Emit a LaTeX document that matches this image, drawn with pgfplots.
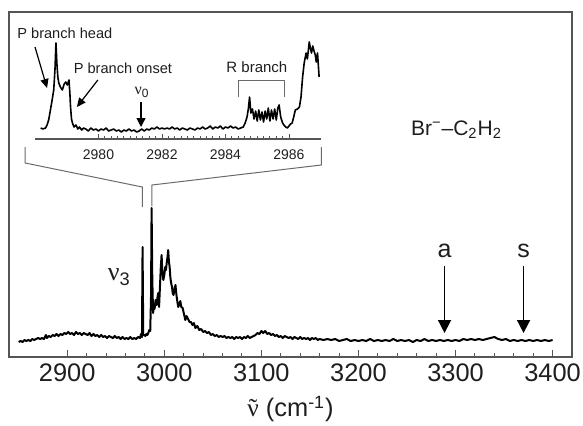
\documentclass[border=0pt]{standalone}
\usepackage{fontspec}
\setmainfont{Liberation Sans}
\newfontfamily\serif{Liberation Serif}
\usepackage{pgfplots}
\pgfplotsset{compat=1.18}
\usetikzlibrary{arrows.meta}
\definecolor{frame}{HTML}{555555}
\definecolor{brk}{HTML}{6A6A6A}
\definecolor{txt}{HTML}{1E1E1E}
\begin{document}
\begin{tikzpicture}
\useasboundingbox (-4.5pt,-34pt) rectangle (287pt,178.5pt);
\begin{axis}[name=main, at={(0pt,0pt)}, anchor=south west,
  scale only axis, width=281.5pt, height=172.5pt,
  xmin=2840, xmax=3420, ymin=0, ymax=345,
  ytick=\empty, xtick={2900,3000,...,3400}, minor x tick num=4,
  xtick pos=bottom, tick align=inside,
  major tick length=3.7pt, minor tick length=2pt,
  axis line style={frame, line width=0.6pt},
  every tick/.style={frame, line width=0.5pt},
  /pgf/number format/assume math mode=true,
  /pgf/number format/1000 sep={},
  ticklabel style={font=\fontsize{12.7}{14}\selectfont, text=txt},
  xlabel={{\serif\accent"02DC ν}\ (cm\textsuperscript{-1})},
  xlabel style={font=\fontsize{12.7}{14}\selectfont, text=txt, at={(axis description cs:0.5,0)}, anchor=center, yshift=-26pt},
  clip=false]
\addplot[black, line width=1pt, line join=round] coordinates {
(2850,15)(2852,16)(2854,15)(2856,17)(2858,16)(2860,17)(2862,16)(2864,18)(2866,17)(2868,18)
(2870,19)(2872,18)(2874,19)(2876,18)(2878,22)(2879,19)(2881,21)(2883,20)(2885,22)(2887,21)
(2889,23)(2891,21)(2893,23)(2895,22)(2897,24)(2899,23)(2901,25)(2903,23)(2905,24)(2907,22)
(2909,25)(2911,23)(2913,24)(2915,22)(2917,24)(2919,23)(2921,22)(2923,24)(2925,21)(2927,23)
(2929,21)(2931,22)(2933,20)(2935,22)(2937,20)(2939,21)(2941,19)(2943,21)(2945,20)(2947,19)
(2949,21)(2951,19)(2953,20)(2955,18)(2957,20)(2959,18)(2961,19)(2963,18)(2965,20)(2967,18)
(2969,19)(2971,18)(2973,20)(2975,19)(2976,23)(2977,20)(2977.6,110)(2978.3,22)(2979.5,22)
(2980.5,21)(2981.5,23)(2982.5,22)(2983.5,24)(2984.5,27)(2985.5,26)(2986.3,60)(2986.9,149)
(2987.6,80)(2988.4,44)(2989.2,50)(2990,48)(2991,57)(2992,52)(2993,60)(2993.8,64)(2994.6,50)
(2995.5,70)(2996.4,90)(2997.2,102)(2998,85)(2999,77)(3000,82)(3001,90)(3001.7,87)(3002.6,95)
(3003.3,100)(3004,107)(3004.8,95)(3005.5,90)(3006.2,80)(3007,74)(3008,70)(3008.6,64)(3009.5,62)
(3010.5,68)(3011.5,72)(3012.5,62)(3013.5,55)(3014.4,50)(3015.5,53)(3016.5,56)(3017.5,50)
(3018.9,49)(3020,44)(3021,40)(3021.6,37)(3023,41)(3024.5,38)(3026,35)(3027.5,35)(3029,32)
(3030.5,34)(3032,29)(3034,31)(3036,27)(3038,28)(3040,25)(3042,26)(3044,24)(3046,25)(3048,22)
(3050,23)(3052,21)(3054,22)(3056,20)(3058,21)(3060,20)(3062,21)(3064,19)(3066,20)(3068,19)
(3070,20)(3072,18)(3074,20)(3076,19)(3078,20)(3080,18)(3082,20)(3084,19)(3086,21)(3088,19)
(3090,20)(3092,21)(3094,22)(3096,24)(3098,23)(3100,26)(3102,24)(3104,26)(3106,23)(3108,24)
(3110,22)(3112,23)(3114,21)(3116,22)(3118,20)(3120,21)(3122,19)(3124,21)(3126,20)(3128,19)
(3130,20)(3132,18)(3134,20)(3136,19)(3138,18)(3140,20)(3142,18)(3144,19)(3146,18)(3148,19)
(3150,17)(3152,19)(3154,18)(3156,19)(3158,17)(3160,18)(3164,17)(3168,18)(3172,17)(3176,18)
(3180,16)(3184,17)(3188,18)(3192,16)(3196,17)(3200,16)(3204,17)(3208,16)(3212,18)(3216,16)
(3220,17)(3224,16)(3228,17)(3232,16)(3236,18)(3240,16)(3244,17)(3248,16)(3252,17)(3256,15)
(3260,17)(3264,16)(3268,18)(3272,16)(3276,17)(3280,16)(3284,17)(3288,16)(3292,17)(3296,16)
(3300,17)(3304,16)(3308,18)(3312,17)(3316,18)(3320,17)(3324,18)(3328,17)(3332,18)(3336,19)
(3340,20)(3344,18)(3348,17)(3352,18)(3356,16)(3360,17)(3364,16)(3368,17)(3372,16)(3376,17)
(3380,16)(3384,17)(3388,16)(3392,17)(3396,16)(3400,17)
};
% zoom bracket
\draw[brk, line width=0.5pt] (axis cs:2856.7,210) -- (axis cs:2856.7,194) -- (axis cs:2977.3,170) -- (axis cs:2977.3,150);
\draw[brk, line width=0.5pt] (axis cs:3161.7,210) -- (axis cs:3161.7,192) -- (axis cs:2987.3,172) -- (axis cs:2987.3,151);
% labels
\node[text=txt, font=\fontsize{10.5}{12}\selectfont] at (axis cs:3301,227) {Br\textsuperscript{−}–C\textsubscript{2}H\textsubscript{2}};
\node[text=txt, font=\fontsize{13}{15}\selectfont] at (axis cs:2953.6,80) {{\serif ν}\textsubscript{3}};
\node[text=txt, font=\fontsize{12.5}{14}\selectfont] at (axis cs:3288.7,106) {a};
\node[text=txt, font=\fontsize{12.5}{14}\selectfont] at (axis cs:3370.1,106) {s};
\draw[black, line width=0.8pt, -{Triangle[width=6.5pt,length=6.5pt]}] (axis cs:3288.7,91) -- (axis cs:3288.7,24);
\draw[black, line width=0.8pt, -{Triangle[width=6.5pt,length=6.5pt]}] (axis cs:3370.1,91) -- (axis cs:3370.1,24);
\end{axis}
\begin{axis}[name=inset, at={(13pt,109pt)}, anchor=south west,
  scale only axis, width=142.85pt, height=63.5pt,
  xmin=2978, xmax=2987, ymin=0, ymax=127,
  axis x line=bottom, axis y line=none, x axis line style={-, frame, line width=0.6pt},
  xtick={2980,2982,2984,2986}, minor x tick num=9, xtick pos=bottom, tick align=inside,
  major tick length=2.6pt, minor tick length=1.7pt,
  every tick/.style={frame, line width=0.45pt},
  /pgf/number format/assume math mode=true,
  /pgf/number format/1000 sep={},
  ticklabel style={font=\fontsize{7}{8}\selectfont, text=txt},
  xticklabel style={yshift=-1.8pt},
  clip=false]
\addplot[black, line width=0.8pt, line join=round] coordinates {
(2978.18,11)(2978.25,10)(2978.33,11)(2978.38,14)(2978.43,19)(2978.48,28)(2978.54,39)(2978.59,49)
(2978.63,70)(2978.66,96)(2978.69,75)(2978.72,62)(2978.75,56)(2978.80,52)(2978.86,49)(2978.92,55)
(2978.97,57)(2979.02,54)(2979.07,59)(2979.10,45)(2979.12,32)(2979.15,20)(2979.18,16)(2979.23,12)
(2979.29,14)(2979.35,10)(2979.40,12)(2979.47,9)(2979.53,11)(2979.60,10)(2979.68,8)(2979.76,11)
(2979.84,9)(2979.92,10)(2980.00,8)(2980.08,10)(2980.16,9)(2980.24,11)(2980.32,8)(2980.40,9)
(2980.48,10)(2980.56,8)(2980.64,9)(2980.72,7)(2980.80,9)(2980.88,8)(2980.96,10)(2981.04,8)
(2981.12,9)(2981.20,7)(2981.28,8)(2981.36,10)(2981.44,8)(2981.52,10)(2981.60,9)(2981.68,11)
(2981.76,10)(2981.84,12)(2981.92,10)(2982.00,11)(2982.08,10)(2982.16,11)(2982.24,10)(2982.32,12)
(2982.40,10)(2982.48,11)(2982.56,9)(2982.64,11)(2982.72,10)(2982.80,9)(2982.88,11)(2982.96,10)
(2983.04,9)(2983.12,11)(2983.20,10)(2983.28,12)(2983.36,10)(2983.44,11)(2983.52,13)(2983.60,10)
(2983.68,12)(2983.76,11)(2983.84,13)(2983.92,10)(2984.00,12)(2984.08,11)(2984.16,13)(2984.24,11)
(2984.32,12)(2984.40,10)(2984.48,11)(2984.56,12)(2984.62,16)(2984.68,22)(2984.72,30)(2984.76,42)
(2984.80,26)(2984.85,30)(2984.90,20)(2984.95,28)(2985.00,18)(2985.05,29)(2985.10,19)(2985.15,27)
(2985.20,17)(2985.25,28)(2985.30,20)(2985.35,31)(2985.40,18)(2985.45,29)(2985.50,20)(2985.55,30)
(2985.60,19)(2985.65,31)(2985.69,34)(2985.74,22)(2985.80,16)(2985.84,14)(2985.90,12)(2985.95,11)
(2986.00,13)(2986.05,15)(2986.10,16)(2986.15,22)(2986.20,29)(2986.27,30)(2986.33,32)(2986.38,42)
(2986.43,62)(2986.48,76)(2986.54,86)(2986.58,80)(2986.64,97)(2986.68,90)(2986.71,86)(2986.75,93)
(2986.79,88)(2986.83,84)(2986.86,77)(2986.90,86)(2986.95,62)
};
% R branch bracket
\draw[brk, line width=0.5pt] (axis cs:2984.40,42) -- (axis cs:2984.40,59) -- (axis cs:2985.87,59) -- (axis cs:2985.87,42);
\node[text=txt, font=\fontsize{7.5}{9}\selectfont] at (axis cs:2984.99,72) {R branch};
\node[text=txt, font=\fontsize{7.3}{9}\selectfont] at (axis cs:2978.94,106) {P branch head};
\node[text=txt, font=\fontsize{7.3}{9}\selectfont] at (axis cs:2980.77,71) {P branch onset};
\node[text=txt, font=\fontsize{8}{9}\selectfont] at (axis cs:2981.37,47) {{\serif ν}\textsubscript{0}};
\draw[black, line width=0.6pt, -{Triangle[width=4pt,length=4.5pt]}] (axis cs:2978.0,92) -- (axis cs:2978.38,51);
\draw[black, line width=0.6pt, -{Triangle[width=4pt,length=4.5pt]}] (axis cs:2979.98,59) -- (axis cs:2979.32,32);
\draw[black, line width=0.6pt, -{Triangle[width=4.5pt,length=4.5pt]}] (axis cs:2981.34,37) -- (axis cs:2981.34,12);
\end{axis}
\end{tikzpicture}
\end{document}
